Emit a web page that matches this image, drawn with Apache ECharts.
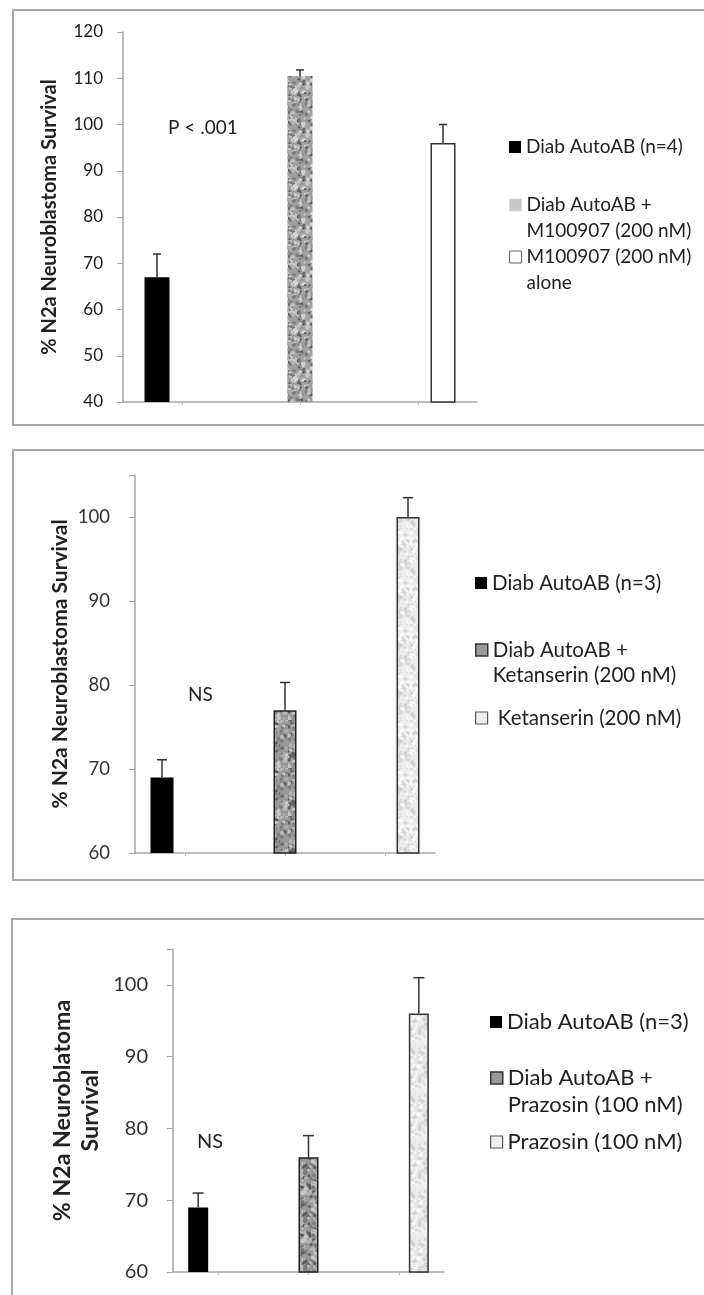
<!DOCTYPE html>
<html>
<head>
<meta charset="UTF-8">
<title>N2a Neuroblastoma Survival</title>
<script src="https://cdn.jsdelivr.net/npm/echarts@6/dist/echarts.min.js"></script>
<style>
	body { margin: 0; background: #fff; }
	#charts { width: 704px; height: 1295px; }
</style>
</head>
<body>
<div id="charts"></div>
<script type="text/javascript">

	// panel 1 - M100907
	var names1 = ['Diab AutoAB (n=4)', 'Diab AutoAB +\nM100907 (200 nM)', 'M100907 (200 nM)\nalone'];
	var values1 = [67, 110.5, 96];
	var errors1 = [5, 1.3, 4];
	var ticks1 = [40, 120, 10];

	// panel 2 - Ketanserin
	var names2 = ['Diab AutoAB (n=3)', 'Diab AutoAB +\nKetanserin (200 nM)', ' Ketanserin (200 nM)'];
	var values2 = [69, 77, 100];
	var errors2 = [2.1, 3.3, 2.3];
	var ticks2 = [60, 105, 10];

	// panel 3 - Prazosin
	var names3 = ['Diab AutoAB (n=3)', 'Diab AutoAB +\nPrazosin (100 nM)', 'Prazosin (100 nM)'];
	var values3 = [69, 76, 96];
	var errors3 = [2, 3, 5];
	var ticks3 = [60, 105, 10];

	var cats = ['1', '2', '3'];
	var yTitles = ['% N2a Neuroblastoma Survival', '% N2a Neuroblastoma Survival', '% N2a Neuroblatoma\nSurvival'];
	var notes = ['P < .001', 'NS', 'NS'];

	var FONT = 'Lato';

	// deterministic speckle texture
	function hash(n) {
		var x = Math.sin(n * 127.1 + 311.7) * 43758.5453;
		return x - Math.floor(x);
	}
	function speckle(base, spots, seed) {
		var c = document.createElement('canvas');
		c.width = 48; c.height = 48;
		var ctx = c.getContext('2d');
		ctx.fillStyle = base;
		ctx.fillRect(0, 0, 48, 48);
		for (var k = 0; k < 260; k++) {
			var x = hash(seed + k * 3) * 48;
			var y = hash(seed + k * 3 + 1) * 48;
			var r = 0.6 + hash(seed + k * 3 + 2) * 1.6;
			ctx.fillStyle = spots[k % spots.length];
			ctx.beginPath();
			ctx.arc(x, y, r, 0, Math.PI * 2);
			ctx.fill();
		}
		return { image: c, repeat: 'repeat' };
	}

	var midSpeckle = speckle('#a0a0a0', ['#5e5e5e', '#d6d6d6', '#7a7a7a', '#c4c4c4'], 11);
	var darkSpeckle = speckle('#9a9a9a', ['#5c5c5c', '#c8c8c8', '#7a7a7a', '#b5b5b5'], 37);
	var lightSpeckle = speckle('#ececec', ['#d2d2d2', '#f8f8f8', '#dedede'], 73);

	var styles = [
		[{ color: '#000' }, { color: midSpeckle }, { color: '#fff', borderColor: '#333', borderWidth: 1.5 }],
		[{ color: '#000' }, { color: darkSpeckle, borderColor: '#222', borderWidth: 1.5 }, { color: lightSpeckle, borderColor: '#333', borderWidth: 1.5 }],
		[{ color: '#000' }, { color: darkSpeckle, borderColor: '#222', borderWidth: 1.5 }, { color: lightSpeckle, borderColor: '#333', borderWidth: 1.5 }]
	];
	var legendIcons = [
		[{ color: '#000' }, { color: '#c8c8c8', borderColor: '#d8d8d8', borderWidth: 1 }, { color: '#fff', borderColor: '#666', borderWidth: 1 }],
		[{ color: '#000' }, { color: '#9a9a9a', borderColor: '#333', borderWidth: 1.5 }, { color: '#eee', borderColor: '#555', borderWidth: 1.2 }],
		[{ color: '#000' }, { color: '#9a9a9a', borderColor: '#333', borderWidth: 1.5 }, { color: '#eee', borderColor: '#555', borderWidth: 1.2 }]
	];

	var panels = [
		{ names: names1, values: values1, errors: errors1, ticks: ticks1,
		  grid: { left: 123, top: 32, width: 354, height: 370 }, barWidth: 25, cap: 4,
		  labelSize: 17, labelColor: '#1a1a1a', labelMargin: 20, titleSize: 20, titleLh: 26, nameGap: 58,
		  legendLeft: 509, legendY: [147, 205, 257], legendSize: 19, lh: 26,
		  note: { x: 168, y: 128, size: 19 }, border: [13, 10, 700, 415] },
		{ names: names2, values: values2, errors: errors2, ticks: ticks2,
		  grid: { left: 135, top: 475, width: 300, height: 378 }, barWidth: 23, cap: 5,
		  labelSize: 18.5, labelColor: '#333', labelMargin: 25, titleSize: 21, titleLh: 28, nameGap: 58,
		  legendLeft: 475, legendY: [583, 650, 718], legendSize: 20.5, lh: 25,
		  note: { x: 188, y: 695, size: 19 }, border: [13, 450, 700, 430] },
		{ names: names3, values: values3, errors: errors3, ticks: ticks3,
		  grid: { left: 173, top: 949, width: 271, height: 323 }, barWidth: 20, cap: 5.5,
		  labelSize: 20, labelColor: '#333', labelMargin: 25, titleSize: 23.2, titleLh: 27.5, nameGap: 69,
		  legendLeft: 490, legendY: [1022, 1078, 1142], legendSize: 22, lh: 27,
		  note: { x: 197, y: 1142, size: 20 }, border: [12, 919, 700, 420] }
	];

	var grids = [], xAxes = [], yAxes = [], series = [], legends = [], graphics = [];

	panels.forEach(function (p, pi) {
		var g = p.grid;
		grids.push({ left: g.left, top: g.top, width: g.width, height: g.height, containLabel: false, outerBoundsMode: 'none' });

		xAxes.push({
			type: 'category', gridIndex: pi, data: cats,
			axisLine: { lineStyle: { color: '#a6a6a6', width: 1.5 } },
			axisTick: { show: true, alignWithLabel: true, length: 3, lineStyle: { color: '#c0c0c0' } },
			axisLabel: { show: false },
			splitLine: { show: false }
		});

		yAxes.push({
			type: 'value', gridIndex: pi,
			min: p.ticks[0], max: p.ticks[1], interval: p.ticks[2],
			axisLine: { show: true, lineStyle: { color: '#a6a6a6', width: 1.5 } },
			axisTick: { show: true, length: 6, lineStyle: { color: '#a6a6a6' } },
			splitLine: { show: false },
			axisLabel: {
				margin: p.labelMargin, fontFamily: FONT, fontSize: p.labelSize, color: p.labelColor,
				formatter: function (v) { return v % 10 === 0 ? String(v) : ''; }
			},
			name: yTitles[pi], nameLocation: 'middle', nameRotate: 90, nameGap: p.nameGap,
			nameTextStyle: { fontFamily: FONT, fontWeight: 'bold', fontSize: p.titleSize, color: '#222', lineHeight: p.titleLh }
		});

		p.names.forEach(function (name, i) {
			series.push({
				type: 'bar', name: name, xAxisIndex: pi, yAxisIndex: pi,
				barWidth: p.barWidth, barGap: '0%',
				data: cats.map(function (c, j) { return j === i ? p.values[i] : '-'; }),
				itemStyle: styles[pi][i],
				emphasis: { disabled: true }
			});

			// two-line entries: a blank first line keeps the icon beside the first text line
			var multi = name.indexOf('\n') >= 0;
			legends.push({
				left: p.legendLeft,
				top: p.legendY[i] - (multi ? 1.5 : 0.5) * p.lh,
				orient: 'vertical', padding: 0, itemGap: 0,
				itemWidth: 12, itemHeight: 12, icon: 'rect', selectedMode: false,
				formatter: multi ? function (n) { return '\n' + n; } : '{name}',
				textStyle: { fontFamily: FONT, fontSize: p.legendSize, color: '#222', lineHeight: p.lh },
				data: [{ name: name, itemStyle: legendIcons[pi][i] }]
			});
		});

		// error bars (upper only)
		series.push({
			type: 'custom', xAxisIndex: pi, yAxisIndex: pi, z: 5,
			encode: { x: 0, y: 1 },
			data: p.values.map(function (v, i) { return [i, v, p.errors[i]]; }),
			renderItem: function (params, api) {
				var i = api.value(0), v = api.value(1), e = api.value(2);
				var base = api.coord([i, v]);
				var top = api.coord([i, v + e]);
				var x = base[0] + (i - 1) * p.barWidth;
				var st = { stroke: '#333', lineWidth: 1.5 };
				return {
					type: 'group', children: [
						{ type: 'line', shape: { x1: x, y1: base[1], x2: x, y2: top[1] }, style: st },
						{ type: 'line', shape: { x1: x - p.cap, y1: top[1], x2: x + p.cap, y2: top[1] }, style: st }
					]
				};
			},
			silent: true
		});

		graphics.push({
			type: 'rect', shape: { x: p.border[0], y: p.border[1], width: p.border[2], height: p.border[3] },
			style: { fill: 'none', stroke: '#a8a8a8', lineWidth: 2 }, silent: true
		});
		graphics.push({
			type: 'text', x: p.note.x, y: p.note.y,
			style: { text: notes[pi], fontFamily: FONT, fontSize: p.note.size, fill: '#222', verticalAlign: 'middle' }
		});
	});

	var chart = echarts.init(document.getElementById('charts'));
	chart.setOption({
		animation: false,
		backgroundColor: '#fff',
		grid: grids,
		xAxis: xAxes,
		yAxis: yAxes,
		legend: legends,
		series: series,
		graphic: graphics
	});
</script>
</body>
</html>
